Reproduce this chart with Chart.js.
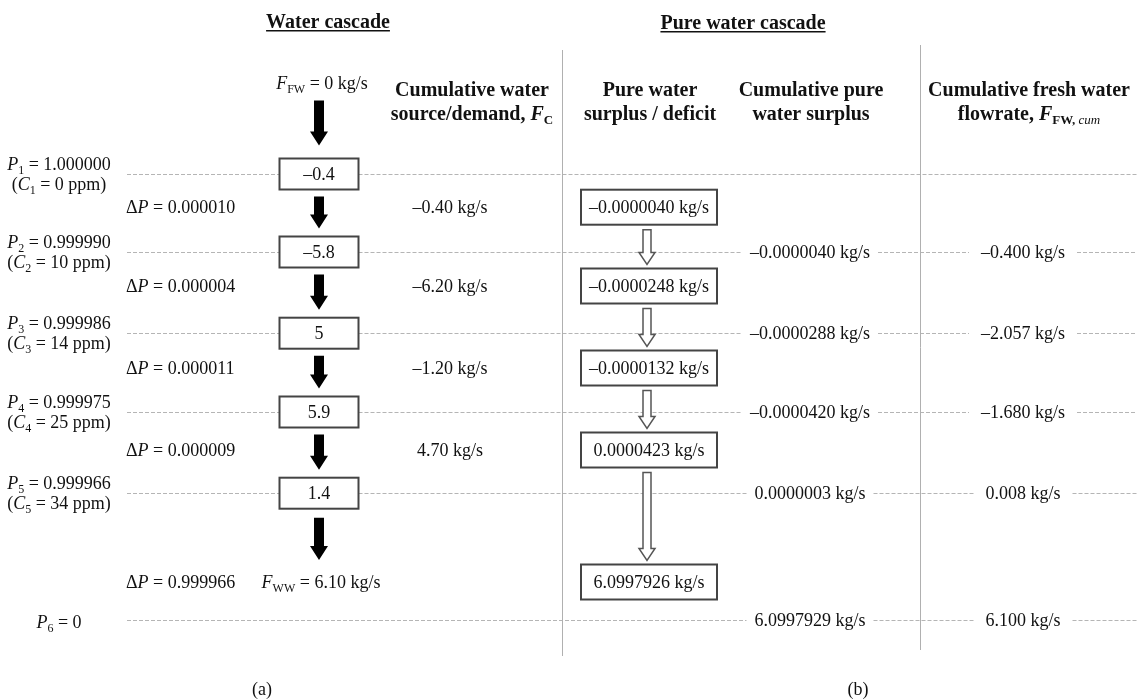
<!DOCTYPE html>
<html><head><meta charset="utf-8">
<script src="https://cdn.jsdelivr.net/npm/chart.js@4"></script>
<style>html,body{margin:0;padding:0;background:#fff}#wrap{width:1140px;height:699px;position:relative}</style>
</head><body><div id="wrap"><canvas id="c"></canvas></div>
<script>
// ---------------- DATA ----------------
const levelIds = ['1','2','3','4','5','6'];
const purity = ['1.000000','0.999990','0.999986','0.999975','0.999966','0'];
const concentrationPpm = [0, 10, 14, 25, 34];
const deltaP = ['0.000010','0.000004','0.000011','0.000009','0.999966'];
const netFlow = [-0.4, -5.8, 5, 5.9, 1.4];
const cumulativeFC = [-0.40, -6.20, -1.20, 4.70];
const pureSurplus = [-0.0000040, -0.0000248, -0.0000132, 0.0000423, 6.0997926];
const cumulativePure = [-0.0000040, -0.0000288, -0.0000420, 0.0000003, 6.0997929];
const cumulativeFW = [-0.400, -2.057, -1.680, 0.008, 6.100];
const freshWater = 0;
const wastewater = 6.10;

// ---------------- LAYOUT ----------------
const FONT = '"Liberation Serif", "DejaVu Serif", serif';
const REG = 18, BOLD = 20;
const LAYOUT = {
  yTopPx: 174, unitPx: 80,
  levelPos: [0, 0.975, 1.99, 2.975, 3.99, 5.575],
  intervalPos: [0.415, 1.4, 2.425, 3.45, 5.1],
  col: {label: 59, dp: 126, cascade: 319, fc: 450, pure: 649, cumPure: 810, cumFW: 1023},
  lineStart: 127, lineEnd: 1137,
  dividers: [{x: 562, y0: 50, y1: 656}, {x: 920, y0: 45, y1: 650}],
  leftBox: {w: 79, h: 31}, pureBox: {w: 136, h: 35}
};
const fmtDash = s => s.replace('-', '\u2013');

const H = 699, W = 1140;
const yMin = -LAYOUT.yTopPx / LAYOUT.unitPx;
const yMax = (H - LAYOUT.yTopPx) / LAYOUT.unitPx;
const C = LAYOUT.col;
const pts = (arr, x, posFn) => arr.map((v, i) => ({x: x, y: posFn(i)}));
const lvl = i => LAYOUT.levelPos[i];
const itv = i => LAYOUT.intervalPos[i];

function segFont(s, base) {
  const size = s.sub ? Math.round(base.size * 0.66) : base.size;
  const b = (s.b !== undefined) ? s.b : base.bold;
  return (s.i ? 'italic ' : '') + (b ? 'bold ' : '') + size + 'px ' + FONT;
}
function drawRich(ctx, segs, x, y, align, base) {
  let w = 0;
  for (const s of segs) { ctx.font = segFont(s, base); s._w = ctx.measureText(s.t).width; w += s._w; }
  let cx = align === 'center' ? x - w / 2 : (align === 'right' ? x - w : x);
  const left = cx;
  ctx.textAlign = 'left'; ctx.textBaseline = 'alphabetic';
  const baseline = y + base.size * 0.33;
  for (const s of segs) {
    ctx.font = segFont(s, base);
    ctx.fillText(s.t, cx, baseline + (s.sub ? base.size * 0.22 : 0));
    cx += s._w;
  }
  return {left: left, right: left + w};
}
function solidArrow(ctx, x, y0, y1) {
  const sw = 5, hw = 9, hl = 14;
  ctx.beginPath();
  ctx.moveTo(x - sw, y0); ctx.lineTo(x + sw, y0); ctx.lineTo(x + sw, y1 - hl);
  ctx.lineTo(x + hw, y1 - hl); ctx.lineTo(x, y1); ctx.lineTo(x - hw, y1 - hl);
  ctx.lineTo(x - sw, y1 - hl); ctx.closePath();
  ctx.fillStyle = '#000'; ctx.fill();
}
function hollowArrow(ctx, x, y0, y1) {
  const sw = 4, hw = 8, hl = 12;
  ctx.beginPath();
  ctx.moveTo(x - sw, y0); ctx.lineTo(x + sw, y0); ctx.lineTo(x + sw, y1 - hl);
  ctx.lineTo(x + hw, y1 - hl); ctx.lineTo(x, y1); ctx.lineTo(x - hw, y1 - hl);
  ctx.lineTo(x - sw, y1 - hl); ctx.closePath();
  ctx.fillStyle = '#fff'; ctx.fill();
  ctx.strokeStyle = '#555'; ctx.lineWidth = 1.5; ctx.stroke();
}
function box(ctx, cx, cy, w, h) {
  ctx.fillStyle = '#fff';
  ctx.fillRect(cx - w / 2, cy - h / 2, w, h);
  ctx.strokeStyle = '#444'; ctx.lineWidth = 2;
  ctx.strokeRect(cx - w / 2, cy - h / 2, w, h);
}

const cascadePlugin = {
  id: 'cascade',
  afterDatasetsDraw(chart) {
    const ctx = chart.ctx;
    const m = k => chart.getDatasetMeta(k).data;
    const levelEls = m(0), dpEls = m(1), netEls = m(2), fcEls = m(3), pureEls = m(4), cpEls = m(5), cfEls = m(6);
    const base = {size: REG, bold: false};
    const bold = {size: BOLD, bold: true};
    ctx.save();
    ctx.fillStyle = '#111';

    // measure gaps for the dashed level lines
    const gaps = levelIds.map(() => []);
    netEls.forEach((el, i) => gaps[i].push([el.x - LAYOUT.leftBox.w / 2, el.x + LAYOUT.leftBox.w / 2]));
    ctx.font = REG + 'px ' + FONT;
    cpEls.forEach((el, i) => {
      const w = ctx.measureText(fmtDash(cumulativePure[i].toFixed(7) + ' kg/s')).width;
      gaps[i + 1].push([el.x - w / 2 - 8, el.x + w / 2 + 8]);
    });
    cfEls.forEach((el, i) => {
      const w = ctx.measureText(fmtDash(cumulativeFW[i].toFixed(3) + ' kg/s')).width;
      gaps[i + 1].push([el.x - w / 2 - 12, el.x + w / 2 + 12]);
    });

    // dashed level lines
    const xs = chart.scales.x;
    const x0 = xs.getPixelForValue(LAYOUT.lineStart), x1 = xs.getPixelForValue(LAYOUT.lineEnd);
    ctx.strokeStyle = '#b5b5b5'; ctx.lineWidth = 1; ctx.setLineDash([4, 2]);
    levelEls.forEach((el, i) => {
      const y = Math.round(el.y) + 0.5;
      const g = gaps[i].slice().sort((a, b) => a[0] - b[0]);
      let cur = x0;
      ctx.beginPath();
      for (const [a, b] of g) { if (a > cur) { ctx.moveTo(cur, y); ctx.lineTo(a, y); } cur = Math.max(cur, b); }
      if (cur < x1) { ctx.moveTo(cur, y); ctx.lineTo(x1, y); }
      ctx.stroke();
    });
    ctx.setLineDash([]);

    // vertical dividers
    const ys = chart.scales.y;
    ctx.strokeStyle = '#b0b0b0'; ctx.lineWidth = 1;
    LAYOUT.dividers.forEach(d => {
      const x = Math.round(xs.getPixelForValue(d.x)) + 0.5;
      ctx.beginPath(); ctx.moveTo(x, d.y0); ctx.lineTo(x, d.y1); ctx.stroke();
    });

    // titles
    ctx.fillStyle = '#111';
    [['Water cascade', 328, 21], ['Pure water cascade', 743, 22]].forEach(([t, x, y]) => {
      const r = drawRich(ctx, [{t: t}], x, y, 'center', bold);
      ctx.fillRect(r.left, y + 9, r.right - r.left, 1.5);
    });
    // column headers
    const hy1 = 89, hy2 = 113;
    drawRich(ctx, [{t: 'Cumulative water'}], 472, hy1, 'center', bold);
    drawRich(ctx, [{t: 'source/demand, '}, {t: 'F', i: true}, {t: 'C', sub: true}], 472, hy2, 'center', bold);
    drawRich(ctx, [{t: 'Pure water'}], 650, hy1, 'center', bold);
    drawRich(ctx, [{t: 'surplus / deficit'}], 650, hy2, 'center', bold);
    drawRich(ctx, [{t: 'Cumulative pure'}], 811, hy1, 'center', bold);
    drawRich(ctx, [{t: 'water surplus'}], 811, hy2, 'center', bold);
    drawRich(ctx, [{t: 'Cumulative fresh water'}], 1029, hy1, 'center', bold);
    drawRich(ctx, [{t: 'flowrate, '}, {t: 'F', i: true}, {t: 'FW, ', sub: true}, {t: 'cum', sub: true, i: true, b: false}], 1029, hy2, 'center', bold);

    // level labels
    levelEls.forEach((el, i) => {
      if (i < concentrationPpm.length) {
        drawRich(ctx, [{t: 'P', i: true}, {t: levelIds[i], sub: true}, {t: ' = ' + purity[i]}], el.x, el.y - 10, 'center', base);
        drawRich(ctx, [{t: '('}, {t: 'C', i: true}, {t: levelIds[i], sub: true}, {t: ' = ' + concentrationPpm[i] + ' ppm)'}], el.x, el.y + 10, 'center', base);
      } else {
        drawRich(ctx, [{t: 'P', i: true}, {t: levelIds[i], sub: true}, {t: ' = ' + purity[i]}], el.x, el.y + 2, 'center', base);
      }
    });
    // delta P labels
    dpEls.forEach((el, i) => drawRich(ctx, [{t: '\u0394'}, {t: 'P', i: true}, {t: ' = ' + deltaP[i]}], el.x, el.y, 'left', base));

    // water cascade: arrows and boxes
    const bh = LAYOUT.leftBox.h;
    const top0 = netEls[0].y - bh / 2;
    drawRich(ctx, [{t: 'F', i: true}, {t: 'FW', sub: true}, {t: ' = ' + freshWater + ' kg/s'}], netEls[0].x + 3, top0 - 75, 'center', base);
    solidArrow(ctx, netEls[0].x, top0 - 58, top0 - 13);
    netEls.forEach((el, i) => {
      const bottom = el.y + bh / 2;
      if (i < netEls.length - 1) solidArrow(ctx, el.x, bottom + 7, netEls[i + 1].y - bh / 2 - 8);
      else solidArrow(ctx, el.x, bottom + 9, dpEls[dpEls.length - 1].y - 22);
    });
    netEls.forEach((el, i) => {
      box(ctx, el.x, el.y, LAYOUT.leftBox.w, bh);
      ctx.fillStyle = '#111';
      drawRich(ctx, [{t: fmtDash(String(netFlow[i]))}], el.x, el.y, 'center', base);
    });
    const last = netEls[netEls.length - 1];
    drawRich(ctx, [{t: 'F', i: true}, {t: 'WW', sub: true}, {t: ' = ' + wastewater.toFixed(2) + ' kg/s'}], last.x + 2, dpEls[dpEls.length - 1].y, 'center', base);

    // cumulative F_C
    fcEls.forEach((el, i) => drawRich(ctx, [{t: fmtDash(cumulativeFC[i].toFixed(2) + ' kg/s')}], el.x, el.y, 'center', base));

    // pure water surplus boxes and hollow arrows
    const ph = LAYOUT.pureBox.h;
    pureEls.forEach((el, i) => {
      if (i < pureEls.length - 1) hollowArrow(ctx, el.x - 2, el.y + ph / 2 + 5, pureEls[i + 1].y - ph / 2 - 4);
    });
    pureEls.forEach((el, i) => {
      box(ctx, el.x, el.y, LAYOUT.pureBox.w, ph);
      ctx.fillStyle = '#111';
      drawRich(ctx, [{t: fmtDash(pureSurplus[i].toFixed(7) + ' kg/s')}], el.x, el.y, 'center', base);
    });
    // cumulative pure + cumulative FW
    cpEls.forEach((el, i) => drawRich(ctx, [{t: fmtDash(cumulativePure[i].toFixed(7) + ' kg/s')}], el.x, el.y, 'center', base));
    cfEls.forEach((el, i) => drawRich(ctx, [{t: fmtDash(cumulativeFW[i].toFixed(3) + ' kg/s')}], el.x, el.y, 'center', base));

    // captions
    drawRich(ctx, [{t: '(a)'}], 262, 689, 'center', base);
    drawRich(ctx, [{t: '(b)'}], 858, 689, 'center', base);
    ctx.restore();
  }
};

const ds = (label, data) => ({label, data, pointRadius: 0, pointHoverRadius: 0, showLine: false});
new Chart(document.getElementById('c'), {
  type: 'scatter',
  data: {
    datasets: [
      ds('Purity level', pts(purity, C.label, lvl)),
      ds('Delta P', pts(deltaP, C.dp, itv)),
      ds('Net flow', pts(netFlow, C.cascade, lvl)),
      ds('Cumulative F_C', pts(cumulativeFC, C.fc, itv)),
      ds('Pure water surplus/deficit', pts(pureSurplus, C.pure, itv)),
      ds('Cumulative pure water surplus', pts(cumulativePure, C.cumPure, i => lvl(i + 1))),
      ds('Cumulative fresh water', pts(cumulativeFW, C.cumFW, i => lvl(i + 1)))
    ]
  },
  options: {
    responsive: true, maintainAspectRatio: false, animation: false,
    layout: {padding: 0},
    plugins: {legend: {display: false}, tooltip: {enabled: false}, title: {display: false}},
    events: [],
    scales: {
      x: {type: 'linear', min: 0, max: W, display: false},
      y: {type: 'linear', min: yMin, max: yMax, reverse: true, display: false}
    }
  },
  plugins: [cascadePlugin]
});
</script>
</body></html>
